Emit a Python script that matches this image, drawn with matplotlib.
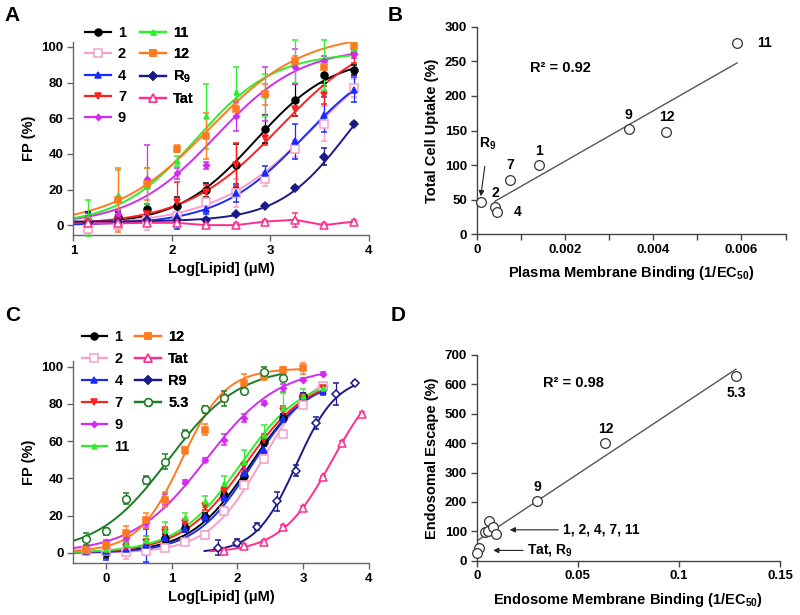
import numpy as np
import matplotlib.pyplot as plt
from matplotlib.lines import Line2D

plt.rcParams['font.family'] = ['Liberation Sans', 'DejaVu Sans']
plt.rcParams['font.weight'] = 'bold'
plt.rcParams['axes.labelweight'] = 'bold'
plt.rcParams['mathtext.fontset'] = 'custom'
plt.rcParams['mathtext.rm'] = 'Liberation Sans:bold'
plt.rcParams['mathtext.it'] = 'Liberation Sans:bold'
plt.rcParams['mathtext.bf'] = 'Liberation Sans:bold'

# ---- panel A: plasma membrane binding curves ----
x_a = [1.15, 1.45, 1.75, 2.05, 2.35, 2.65, 2.95, 3.25, 3.55, 3.85]
a_1 = [2.4, 4.3, 8.8, 10.8, 19.6, 33.5, 54, 70, 84, 87]
a_2 = [-2, 0, 3, 5, 13, 18, 26, 43, 57, 77]
a_4 = [2, 2, 4, 5, 9, 18, 29, 47, 62, 76]
a_7 = [2, 3, 6.5, 13, 18.6, 34, 49, 65, 73, 95]
a_9 = [3, 6.5, 26, 29, 33.5, 61, 73.5, 89, 92, 96]
a_11 = [4, 17, 22, 36, 61, 75, 73, 92, 90, 99.5]
a_12 = [2, 14, 23, 43, 50, 65, 73.5, 92, 88.5, 100.5]
a_r9 = [1, 2, 3, 3, 3, 6, 11, 21, 38.5, 57]
a_tat = [1, 1, 1.3, 1.3, 0, 0, 2, 3, 0, 2]
a_1_err = [5, 3, 3, 5, 4, 12, 8, 9, 4, 3]
a_2_err = [3, 3, 6, 5, 6, 8, 4, 5, 10, 5]
a_4_err = [5, 2, 2, 7, 3, 5, 4, 10, 10, 7]
a_7_err = [2, 2, 3, 11, 4, 12, 4, 4, 5, 4]
a_9_err = [2, 2, 19, 3, 2, 8, 15, 10, 3, 2]
a_11_err = [10, 14, 10, 3, 18, 14, 12, 12, 14, 3]
a_12_err = [2, 18, 9, 2, 13, 5, 6, 3, 3, 1]
a_r9_err = [1, 1, 1, 1, 1, 1, 1, 1, 5, 1]
a_tat_err = [1, 1, 2, 1, 1, 1, 1, 4, 1, 1]
# fitted sigmoid: bottom, top, logEC50, hill slope
fit_a_1 = (0, 95, 2.85, 1.1)
fit_a_2 = (0, 110, 3.45, 0.85)
fit_a_4 = (0, 100, 3.35, 1.0)
fit_a_7 = (0, 110, 3.1, 0.9)
fit_a_9 = (0, 100, 2.45, 1.0)
fit_a_11 = (0, 97, 2.25, 1.1)
fit_a_12 = (0, 108, 2.38, 0.9)
fit_a_r9 = (2, 100, 3.78, 1.25)

# ---- panel C: endosome membrane binding curves ----
x_c = [-0.3, 0, 0.3, 0.6, 0.9, 1.2, 1.5, 1.8, 2.1, 2.4, 2.7, 3.0, 3.3]
c_1 = [1, 0, 2, 2.9, 7.9, 13.3, 19.5, 31.2, 41, 59.5, 72.4, 84, 88.5]
c_2 = [1, 1, 0.5, 1, 2.9, 5.7, 9.7, 22.6, 36.6, 50.5, 64, 79.6, 89.3]
c_4 = [1, 1, 2, 4, 8, 13, 19, 30, 42.8, 55.4, 72, 84, 86.7]
c_7 = [1, 1.5, 3, 6, 11, 16, 25, 33.3, 46.4, 60.8, 76, 83.5, 88.5]
c_9 = [2.5, 6, 8, 16, 28.5, 38, 50, 60.8, 72.4, 80.5, 88.5, 93, 96.2]
c_11 = [1.5, 2, 4.6, 7, 12.4, 19.5, 27.6, 37.5, 49, 63.4, 78, 84, 88.5]
x_c_12 = [-0.3, 0, 0.3, 0.6, 0.9, 1.2, 1.5, 1.8, 2.1, 2.4, 2.7, 3.0]
c_12 = [1.5, 4, 10.5, 17.5, 28.5, 55, 66, 83, 91, 95, 98, 99]
x_c_53 = [-0.3, 0, 0.3, 0.6, 0.9, 1.2, 1.5, 1.8, 2.1, 2.4, 2.7]
c_53 = [7.5, 11.5, 29, 39, 49, 64, 77, 83, 87, 97, 94]
x_c_r9 = [1.7, 2.0, 2.3, 2.6, 2.9, 3.2, 3.5, 3.8]
c_r9 = [2.9, 5.5, 14.1, 27.6, 44, 69.7, 85.3, 91.2]
x_c_tat = [1.8, 2.1, 2.4, 2.7, 3.0, 3.3, 3.6, 3.9]
c_tat = [1.1, 3.8, 6.1, 14.1, 24, 40.5, 59, 74.6]
c_1_err = [1, 3, 2, 2, 2, 2, 2, 2, 2, 2, 2, 2, 2]
c_2_err = [1, 2, 4, 2, 2, 1, 2, 2, 2, 2, 2, 2, 2]
c_4_err = [1, 5, 2, 9, 3, 2, 2, 2, 2, 2, 2, 2, 2]
c_7_err = [1, 1, 2, 3, 3, 2, 2, 2, 2, 3, 3, 2, 2]
c_9_err = [1, 1, 2, 2, 3, 1, 1, 3, 2, 1, 2, 1, 1]
c_11_err = [1, 1, 2, 2, 4, 2, 3, 4, 6, 5, 8, 4, 2]
c_12_err = [1, 2, 4, 4, 4, 2, 3, 2, 5, 2, 2, 3]
c_53_err = [3, 2, 3, 2, 4, 2, 2, 4, 2, 3, 2]
c_r9_err = [4, 2, 2, 5, 3, 3, 6, 1]
c_tat_err = [1, 1, 1, 1, 1, 1, 1, 1]
fit_c_1 = (0, 95, 2.2, 0.95)
fit_c_2 = (0, 100, 2.38, 1.05)
fit_c_4 = (0, 94, 2.22, 1.0)
fit_c_7 = (0, 95, 2.12, 0.9)
fit_c_9 = (0, 100, 1.52, 0.78)
fit_c_11 = (0, 95, 2.05, 0.9)
fit_c_12 = (0.5, 99, 1.15, 1.3)
fit_c_53 = (0, 100, 0.95, 0.8)
fit_c_r9 = (0, 95, 2.9, 1.4)
fit_c_tat = (0, 100, 3.45, 1.1)

# ---- panel B: uptake vs plasma membrane binding ----
b_names = ['R$_9$', '2', '4', '7', '1', '9', '12', '11']
b_x = [0.00009, 0.00041, 0.00045, 0.00075, 0.0014, 0.00344, 0.0043, 0.0059]
b_y = [46, 39, 32, 78, 100, 152, 148, 277]

# ---- panel D: endosomal escape vs endosome binding ----
d_names = ['Tat', 'R$_9$', '1', '2', '4', '7', '11', '9', '12', '5.3']
d_x = [0.0012, 0.0002, 0.004, 0.0056, 0.0061, 0.0078, 0.0094, 0.0299, 0.0636, 0.1282]
d_y = [43, 26, 96, 100, 136, 113, 92, 203, 402, 628]


def hill(x, bottom, top, logec, slope):
    return bottom + (top - bottom) / (1 + 10 ** ((logec - x) * slope))


colors = {'1': 'black', '2': '#f5a0c8', '4': '#1a2bff', '7': '#ff1f1f',
          '9': '#d22cf0', '11': '#2bef2b', '12': '#ff7a1f',
          'R9': '#1a1a8a', 'Tat': '#ff2d8c', '5.3': '#1d7a26'}
markers = {'1': ('o', 5, True), '2': ('s', 5.5, False), '4': ('^', 4.5, True),
           '7': ('v', 4.5, True), '9': ('D', 3, True), '11': ('^', 3.5, True),
           '12': ('s', 5, True), 'R9': ('D', 4.5, True), 'Tat': ('^', 6, False),
           '5.3': ('o', 5.5, False)}
gray = '#666666'

fig = plt.figure(figsize=(8, 6.15), dpi=100)
axA = fig.add_axes([0.0917, 0.618, 0.369, 0.3143])
axB = fig.add_axes([0.596, 0.619, 0.386, 0.3376])
axC = fig.add_axes([0.0917, 0.0846, 0.369, 0.3276])
axD = fig.add_axes([0.596, 0.0883, 0.379, 0.3345])


def style_axes(ax, spine_color):
    for s in ['top', 'right']:
        ax.spines[s].set_visible(False)
    for s in ['left', 'bottom']:
        ax.spines[s].set_color(spine_color)
        ax.spines[s].set_linewidth(1.0)
    ax.tick_params(direction='out', length=4, width=1, color=spine_color,
                   labelsize=9.5, labelcolor='black', pad=3)
    for lab in ax.get_xticklabels() + ax.get_yticklabels():
        lab.set_fontweight('bold')


def draw_series(ax, key, x, y, err, fit, x0, x1, lw=1.4):
    mk, ms, filled = markers[key]
    c = colors[key]
    ax.errorbar(x, y, yerr=err, fmt=mk, ms=ms, color=c, mec=c,
                mfc=c if filled else 'white', mew=1.1, ecolor=c,
                elinewidth=0.9, capsize=2.5, capthick=0.9, clip_on=False, zorder=3)
    if fit is None:
        ax.plot(x, y, color=c, lw=lw, zorder=2)
    else:
        xs = np.linspace(x0, x1, 200)
        ax.plot(xs, hill(xs, *fit), color=c, lw=lw, zorder=2)


def legend_col(ax, keys, labels, anchor, spacing):
    handles = []
    for k in keys:
        mk, ms, filled = markers[k]
        c = colors[k]
        handles.append(Line2D([], [], color=c, lw=1.6, marker=mk, ms=ms, mec=c,
                              mfc=c if filled else 'white', mew=1.1))
    leg = ax.legend(handles, labels, loc='upper left', bbox_to_anchor=anchor,
                    frameon=False, prop={'size': 10.5, 'weight': 'bold'},
                    handlelength=1.75, handletextpad=0.5, labelspacing=spacing,
                    borderaxespad=0, borderpad=0, numpoints=1)
    ax.add_artist(leg)


# panel A
draw_series(axA, '1', x_a, a_1, a_1_err, fit_a_1, 1.0, 3.85)
draw_series(axA, '2', x_a, a_2, a_2_err, fit_a_2, 1.0, 3.85)
draw_series(axA, '4', x_a, a_4, a_4_err, fit_a_4, 1.0, 3.85)
draw_series(axA, '7', x_a, a_7, a_7_err, fit_a_7, 1.0, 3.85)
draw_series(axA, '9', x_a, a_9, a_9_err, fit_a_9, 1.0, 3.85)
draw_series(axA, '11', x_a, a_11, a_11_err, fit_a_11, 1.0, 3.85)
draw_series(axA, '12', x_a, a_12, a_12_err, fit_a_12, 1.0, 3.85)
draw_series(axA, 'R9', x_a, a_r9, a_r9_err, fit_a_r9, 1.0, 3.85)
draw_series(axA, 'Tat', x_a, a_tat, a_tat_err, None, 1.0, 3.85)
axA.set_xlim(1, 4)
axA.set_ylim(-5.5, 103)
axA.set_xticks([1, 2, 3, 4])
axA.set_yticks([0, 20, 40, 60, 80, 100])
axA.set_xlabel('Log[Lipid] (\u03bcM)', fontsize=10.5, labelpad=4)
axA.set_ylabel('FP (%)', fontsize=10.5, labelpad=4)
style_axes(axA, gray)
legend_col(axA, ['1', '2', '4', '7', '9'], ['1', '2', '4', '7', '9'], (0.04, 1.08), 0.5)
legend_col(axA, ['11', '12', 'R9', 'Tat'], ['11', '12', 'R$_9$', 'Tat'], (0.226, 1.08), 0.5)

# panel C
draw_series(axC, '1', x_c, c_1, c_1_err, fit_c_1, -0.5, 3.3)
draw_series(axC, '2', x_c, c_2, c_2_err, fit_c_2, -0.5, 3.3)
draw_series(axC, '4', x_c, c_4, c_4_err, fit_c_4, -0.5, 3.3)
draw_series(axC, '7', x_c, c_7, c_7_err, fit_c_7, -0.5, 3.3)
draw_series(axC, '9', x_c, c_9, c_9_err, fit_c_9, -0.5, 3.3)
draw_series(axC, '11', x_c, c_11, c_11_err, fit_c_11, -0.5, 3.3)
draw_series(axC, '12', x_c_12, c_12, c_12_err, fit_c_12, -0.5, 3.0)
draw_series(axC, '5.3', x_c_53, c_53, c_53_err, fit_c_53, -0.5, 2.7)
markers['R9'] = ('D', 4.5, False)
draw_series(axC, 'R9', x_c_r9, c_r9, c_r9_err, fit_c_r9, 1.5, 3.8)
draw_series(axC, 'Tat', x_c_tat, c_tat, c_tat_err, fit_c_tat, 1.6, 3.9)
markers['R9'] = ('D', 4.5, True)
axC.set_xlim(-0.5, 4)
axC.set_ylim(-5.4, 102.7)
axC.set_xticks([0, 1, 2, 3, 4])
axC.set_yticks([0, 20, 40, 60, 80, 100])
axC.set_xlabel('Log[Lipid] (\u03bcM)', fontsize=10.5, labelpad=4)
axC.set_ylabel('FP (%)', fontsize=10.5, labelpad=4)
style_axes(axC, gray)
legend_col(axC, ['1', '2', '4', '7', '9', '11'], ['1', '2', '4', '7', '9', '11'], (0.028, 1.155), 0.55)
legend_col(axC, ['12', 'Tat', 'R9', '5.3'], ['12', 'Tat', 'R9', '5.3'], (0.21, 1.155), 0.55)

# panel B
line_c = '#555555'
slope, icpt = np.polyfit(b_x, b_y, 1)
bx = np.array([sorted(b_x)[1], max(b_x)])
axB.plot(bx, slope * bx + icpt, color=line_c, lw=1.0, zorder=2)
axB.plot(b_x, b_y, 'o', ms=7, mfc='white', mec='#333333', mew=0.9, clip_on=False, zorder=3)
b_offsets = {'R$_9$': None, '2': (0, 14), '4': (17, 0), '7': (0, 15), '1': (0, 14.5),
             '9': (0, 14), '12': (0, 15), '11': (20, 0)}
for name, x, y in zip(b_names, b_x, b_y):
    off = b_offsets[name]
    if off is None:
        axB.annotate(name, xy=(x, y + 9), xytext=(7, 52), textcoords='offset pixels',
                     ha='center', va='center', fontsize=10, fontweight='bold',
                     arrowprops=dict(arrowstyle='-|>', color='#222222', lw=0.8,
                                     mutation_scale=8, shrinkA=8, shrinkB=0))
    else:
        axB.annotate(name, xy=(x, y), xytext=off, textcoords='offset pixels',
                     ha='left' if off[0] > 0 else 'center', va='center',
                     fontsize=10, fontweight='bold')
axB.text(0.0012, 240, 'R\u00b2 = 0.92', fontsize=10.5, fontweight='bold', va='center')
axB.set_xlim(0, 0.007)
axB.set_ylim(0, 300)
axB.set_xticks(np.arange(0, 0.0071, 0.001))
axB.set_xticklabels(['0', '', '0.002', '', '0.004', '', '0.006', ''])
axB.set_yticks(np.arange(0, 301, 50))
axB.set_xlabel('Plasma Membrane Binding (1/EC$_{50}$)', fontsize=10.5, labelpad=6)
axB.set_ylabel('Total Cell Uptake (%)', fontsize=10.5, labelpad=4)
style_axes(axB, '#444444')

# panel D
slope, icpt = np.polyfit(d_x, d_y, 1)
dx = np.array([0, max(d_x)])
axD.plot(dx, slope * dx + icpt, color=line_c, lw=1.0, zorder=2)
axD.plot(d_x, d_y, 'o', ms=7, mfc='white', mec='#333333', mew=0.9, clip_on=False, zorder=3)
d_offsets = {'9': (0, 14.5), '12': (0, 14), '5.3': (0, -17)}
for name, x, y in zip(d_names, d_x, d_y):
    if name in d_offsets:
        axD.annotate(name, xy=(x, y), xytext=d_offsets[name], textcoords='offset pixels',
                     ha='center', va='center', fontsize=10, fontweight='bold')
axD.annotate('', xy=(0.0163, 105), xytext=(0.0403, 105),
             arrowprops=dict(arrowstyle='-|>', color='#222222', lw=0.8, mutation_scale=8,
                             shrinkA=0, shrinkB=0))
axD.text(0.0427, 105, '1, 2, 4, 7, 11', fontsize=10, fontweight='bold', va='center')
axD.annotate('', xy=(0.0081, 35), xytext=(0.0229, 35),
             arrowprops=dict(arrowstyle='-|>', color='#222222', lw=0.8, mutation_scale=8,
                             shrinkA=0, shrinkB=0))
axD.text(0.0246, 35, 'Tat, R$_9$', fontsize=10, fontweight='bold', va='center')
axD.text(0.0328, 604, 'R\u00b2 = 0.98', fontsize=10.5, fontweight='bold', va='center')
axD.set_xlim(0, 0.15)
axD.set_ylim(0, 700)
axD.set_xticks([0, 0.05, 0.1, 0.15])
axD.set_xticklabels(['0', '0.05', '0.1', '0.15'])
axD.set_yticks(np.arange(0, 701, 100))
axD.set_xlabel('Endosome Membrane Binding (1/EC$_{50}$)', fontsize=10.5, labelpad=6)
axD.set_ylabel('Endosomal Escape (%)', fontsize=10.5, labelpad=4)
style_axes(axD, '#444444')

# panel letters
fig.text(0.006, 0.99, 'A', fontsize=15, fontweight='bold', va='top')
fig.text(0.484, 0.99, 'B', fontsize=15, fontweight='bold', va='top')
fig.text(0.006, 0.502, 'C', fontsize=15, fontweight='bold', va='top')
fig.text(0.488, 0.502, 'D', fontsize=15, fontweight='bold', va='top')

fig.savefig('out.png', dpi=100)
